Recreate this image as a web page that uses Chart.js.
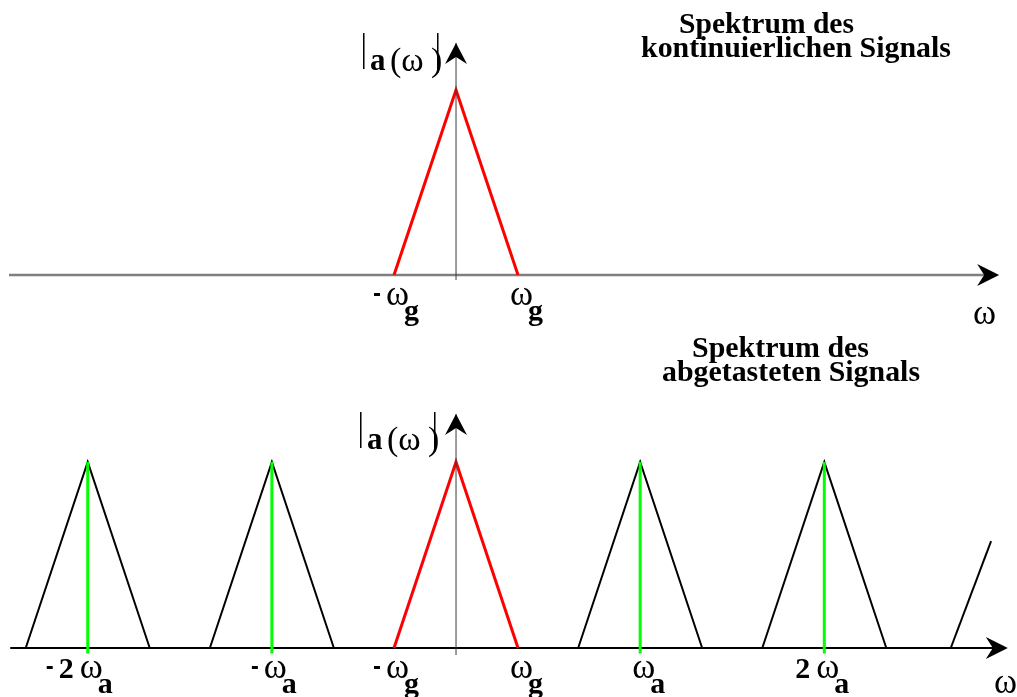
<!DOCTYPE html>
<html>
<head>
<meta charset="utf-8">
<script src="https://cdn.jsdelivr.net/npm/chart.js@4.4.1/dist/chart.umd.min.js"></script>
<style>
  html, body { margin:0; padding:0; background:#fff; overflow:hidden; }
  #spec { display:block; }
</style>
</head>
<body>
<canvas id="spec" width="1017" height="697" style="width:1017px;height:697px"></canvas>
<script>
// data (omega in units of omega_g, amplitude normalised to 1)
const omegaG = 1;
const omegaA = 2.97;
const peak = 1;
const replicaMultiples = [-2, -1, 1, 2];      // k * omega_a, black replicas
const partialX = [7.98, 8.63];                // cut-off replica at the right edge
const partialY = [0, 0.575];
const topTicks = [
  { v: -omegaG, pre: '-', sub: 'g' },
  { v:  omegaG, pre: '',  sub: 'g' }
];
const bottomTicks = [
  { v: -2 * omegaA, pre: '-2', sub: 'a' },
  { v: -omegaA,     pre: '-',  sub: 'a' },
  { v: -omegaG,     pre: '-',  sub: 'g' },
  { v:  omegaG,     pre: '',   sub: 'g' },
  { v:  omegaA,     pre: '',   sub: 'a' },
  { v:  2 * omegaA, pre: '2',  sub: 'a' }
];
const titleTop = ['Spektrum des', 'kontinuierlichen Signals'];
const titleBottom = ['Spektrum des', 'abgetasteten Signals'];

// helpers
const pt = (x, y) => ({ x, y });
const tri = c => [pt(c - omegaG, 0), pt(c, peak), pt(c + omegaG, 0)];
const line = (data, color, width, yAxisID) => ({
  data, borderColor: color, borderWidth: width, yAxisID,
  showLine: true, pointRadius: 0, fill: false, tension: 0,
  borderJoinStyle: 'miter', borderCapStyle: 'butt'
});

// axis extents (in data units)
const axTop = { x0: -7.21, x1: 8.76, yLo: -0.027, yHi: 1.254 };
const axBot = { x0: -7.19, x1: 8.90, yLo: -0.038, yHi: 1.258 };

// datasets: first one is painted on top
const datasets = [];
replicaMultiples.forEach(k => {
  datasets.push(line([pt(k * omegaA, -0.03), pt(k * omegaA, peak)], '#00ff00', 3, 'yBot'));
});
datasets.push(line([pt(0, axTop.yLo), pt(0, axTop.yHi)], '#3a3a3a', 1, 'yTop'));
datasets.push(line([pt(0, axBot.yLo), pt(0, axBot.yHi)], '#3a3a3a', 1, 'yBot'));
datasets.push(line(tri(0), '#ff0000', 3, 'yTop'));
datasets.push(line(tri(0), '#ff0000', 3, 'yBot'));
replicaMultiples.forEach(k => datasets.push(line(tri(k * omegaA), '#000', 2, 'yBot')));
datasets.push(line(partialX.map((x, i) => pt(x, partialY[i])), '#000', 2, 'yBot'));
datasets.push(line([pt(axTop.x0, 0), pt(axTop.x1 - 0.2, 0)], '#7f7f7f', 2.5, 'yTop'));
datasets.push(line([pt(axBot.x0, 0), pt(axBot.x1 - 0.2, 0)], '#000', 2, 'yBot'));

// arrows, labels, titles
const serif = '"Liberation Serif", "Times New Roman", serif';
const omegaFont = '35px ' + serif;
const deco = {
  id: 'deco',
  afterDatasetsDraw(chart){
    const { ctx } = chart;
    const { x, yTop, yBot } = chart.scales;
    const X = v => x.getPixelForValue(v);

    function arrowRight(tx, ty){
      ctx.beginPath();
      ctx.moveTo(tx, ty);
      ctx.lineTo(tx - 22, ty - 11);
      ctx.lineTo(tx - 15, ty);
      ctx.lineTo(tx - 22, ty + 11);
      ctx.closePath(); ctx.fill();
    }
    function arrowUp(tx, ty){
      ctx.beginPath();
      ctx.moveTo(tx, ty);
      ctx.lineTo(tx - 11, ty + 21);
      ctx.lineTo(tx, ty + 14);
      ctx.lineTo(tx + 11, ty + 21);
      ctx.closePath(); ctx.fill();
    }
    function text(s, tx, ty, font, maxW){
      ctx.font = font;
      if (maxW) ctx.fillText(s, tx, ty, maxW); else ctx.fillText(s, tx, ty);
    }
    function tick(t, base, baseSub){
      const left = X(t.v) - 8;
      text('\u03c9', left, base, omegaFont);
      text(t.sub, left + 18, baseSub, 'bold 30px ' + serif);
      if (t.pre.indexOf('2') >= 0) text('2', left - 21, base, 'bold 30px ' + serif);
      if (t.pre[0] === '-') {
        const hx = left - (t.pre.length > 1 ? 33 : 12);
        ctx.fillRect(hx, base - 12, 6, 3);
      }
    }
    function magLabel(ox, oy){
      ctx.fillRect(ox, oy, 1.5, 36);
      text('a', ox + 7, oy + 37, 'bold 31px ' + serif);
      text('(\u03c9', ox + 27, oy + 38, '34px ' + serif);
      text(')', ox + 68, oy + 38, '34px ' + serif);
      ctx.fillRect(ox + 74, oy, 1.5, 40);
    }

    ctx.save();
    ctx.fillStyle = '#000';
    ctx.textBaseline = 'alphabetic';
    ctx.textAlign = 'left';

    arrowRight(X(axTop.x1), yTop.getPixelForValue(0));
    arrowRight(X(axBot.x1), yBot.getPixelForValue(0));
    arrowUp(X(0), yTop.getPixelForValue(axTop.yHi));
    arrowUp(X(0), yBot.getPixelForValue(axBot.yHi));

    const bTop = yTop.getPixelForValue(0);
    const bBot = yBot.getPixelForValue(0);
    topTicks.forEach(t => tick(t, bTop + 30, bTop + 45));
    bottomTicks.forEach(t => tick(t, bBot + 30, bBot + 45));
    text('\u03c9', 973, bTop + 49, omegaFont);
    text('\u03c9', 994, bBot + 45, omegaFont);

    magLabel(X(0) - 93, yTop.getPixelForValue(axTop.yHi) - 10);
    magLabel(X(0) - 96, yBot.getPixelForValue(axBot.yHi) - 2);

    const tf = 'bold 30px ' + serif;
    text(titleTop[0], 679, 33, tf, 175);
    text(titleTop[1], 641, 57, tf, 310);
    text(titleBottom[0], 692, 357, tf, 177);
    text(titleBottom[1], 662, 381, tf, 258);
    ctx.restore();
  }
};

new Chart(document.getElementById('spec'), {
  type: 'scatter',
  data: { datasets },
  options: {
    responsive: false,
    animation: false,
    events: [],
    layout: { padding: 0 },
    plugins: { legend: { display: false }, tooltip: { enabled: false } },
    scales: {
      x:    { type: 'linear', display: false, min: -7.355, max: 9.048 },
      yTop: { type: 'linear', display: false, min: -2.281, max: 1.4865 },
      yBot: { type: 'linear', display: false, min: -0.2634, max: 3.484 }
    }
  },
  plugins: [deco]
});
</script>
</body>
</html>
